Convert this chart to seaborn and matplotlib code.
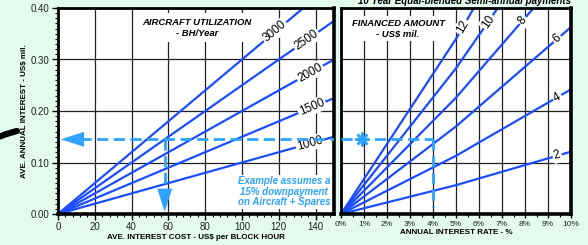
import numpy as np
import pandas as pd
import seaborn as sns
import matplotlib.pyplot as plt
from matplotlib.ticker import MultipleLocator, AutoMinorLocator, FuncFormatter
from matplotlib.lines import Line2D

# left panel - aircraft utilization lines (BH/Year)
utilization = ['1000', '1500', '2000', '2500', '3000']
cost_pts = [0, 150]
interest_at_150 = [0.150, 0.225, 0.300, 0.375, 0.450]
util_label_x = [137, 138, 137, 135, 118]

# right panel - financed amount lines (US$ mil.)
financed = ['2', '4', '6', '8', '10', '12']
rate_pts = [0, 5, 10]
interest_2 = [0, 0.056, 0.121]
interest_4 = [0, 0.113, 0.242]
interest_6 = [0, 0.170, 0.363]
interest_8 = [0, 0.226, 0.484]
interest_10 = [0, 0.283, 0.605]
interest_12 = [0, 0.340, 0.726]
fin_label_x = [9.4, 9.4, 9.4, 7.9, 6.4, 5.3]

# worked example
example_interest = 0.145
example_cost = 58
example_rate = 4

BLUE = '#1a4dff'
LIGHT = '#2ea3ff'
BG = '#e3fbee'

sns.set_theme(style='white')
plt.rcParams['font.family'] = ['Liberation Sans', 'DejaVu Sans']
plt.rcParams['text.color'] = 'black'

fig = plt.figure(figsize=(5.88, 2.45), dpi=100, facecolor=BG)
ax1 = fig.add_axes([58/588, 1-214/245, 276/588, 206/245])
ax2 = fig.add_axes([341/588, 1-214/245, 230/588, 206/245])

rows = []
for u, end in zip(utilization, interest_at_150):
    rows.append((u, cost_pts[0], 0.0))
    rows.append((u, cost_pts[1], end))
left_df = pd.DataFrame(rows, columns=['util', 'cost', 'interest'])

fin_values = [interest_2, interest_4, interest_6, interest_8, interest_10, interest_12]
rows = []
for f, vals in zip(financed, fin_values):
    for r, v in zip(rate_pts, vals):
        rows.append((f, r, v))
right_df = pd.DataFrame(rows, columns=['amount', 'rate', 'interest'])

sns.lineplot(data=left_df, x='cost', y='interest', hue='util', palette=[BLUE]*5,
             legend=False, ax=ax1, lw=1.6, estimator=None, zorder=2)
sns.lineplot(data=right_df, x='rate', y='interest', hue='amount', palette=[BLUE]*6,
             legend=False, ax=ax2, lw=1.6, estimator=None, zorder=2)

for ax in (ax1, ax2):
    ax.set_facecolor('white')
    ax.set_ylim(0, 0.40)
    ax.yaxis.set_major_locator(MultipleLocator(0.1))
    ax.grid(True, which='major', color='#222222', lw=0.9)
    ax.set_axisbelow(True)
    for s in ax.spines.values():
        s.set_visible(True)
        s.set_color('black')
        s.set_linewidth(2)
    ax.spines['right'].set_linewidth(2.6)
    ax.spines['bottom'].set_linewidth(2.6)

ax1.set_xlim(0, 150)
ax1.xaxis.set_major_locator(MultipleLocator(20))
ax1.xaxis.set_minor_locator(AutoMinorLocator(5))
ax1.yaxis.set_minor_locator(AutoMinorLocator(10))
ax1.yaxis.set_major_formatter(FuncFormatter(lambda v, p: f'{v:.2f}'))
ax1.tick_params(which='major', direction='out', length=4, width=1, color='black',
                labelsize=7, labelcolor='#222222', bottom=True, left=True, pad=2)
ax1.tick_params(which='minor', direction='out', length=2.5, width=0.8, color='black',
                bottom=True, left=True)
ax1.set_xlabel('AVE. INTEREST COST - US$ per BLOCK HOUR', fontsize=5.8,
               fontweight='bold', labelpad=1, color='black')
ax1.set_ylabel('AVE. ANNUAL INTEREST - US$ mil.', fontsize=5.8,
               fontweight='bold', labelpad=2, color='black')

ax2.set_xlim(0, 10)
ax2.xaxis.set_major_locator(MultipleLocator(1))
ax2.xaxis.set_minor_locator(AutoMinorLocator(2))
ax2.xaxis.set_major_formatter(FuncFormatter(lambda v, p: f'{int(v)}%'))
ax2.tick_params(which='major', axis='x', direction='out', length=3, width=1,
                color='black', labelsize=6, labelcolor='#222222', bottom=True, pad=2)
ax2.tick_params(which='minor', axis='x', direction='out', length=2, width=0.8,
                color='black', bottom=True)
ax2.tick_params(axis='y', left=False, labelleft=False)
ax2.set_xlabel('ANNUAL INTEREST RATE - %', fontsize=5.8, fontweight='bold',
               labelpad=1, color='black')
ax2.set_ylabel('')

# line labels along the lines
for u, end, lx in zip(utilization, interest_at_150, util_label_x):
    ly = np.interp(lx, cost_pts, [0, end])
    ang = np.degrees(np.arctan2(end, cost_pts[1]))
    ax1.text(lx, ly, u, ha='center', va='center', fontsize=8.5, rotation=ang,
             color='black', rotation_mode='anchor', transform_rotates_text=True,
             zorder=4, bbox=dict(facecolor='white', edgecolor='none', pad=1))

for f, vals, lx in zip(financed, fin_values, fin_label_x):
    ly = np.interp(lx, rate_pts, vals)
    ang = np.degrees(np.arctan2(vals[2] - vals[1], rate_pts[2] - rate_pts[1]))
    ax2.text(lx, ly, f, ha='center', va='center', fontsize=8.5, rotation=ang,
             color='black', rotation_mode='anchor', transform_rotates_text=True,
             zorder=4, bbox=dict(facecolor='white', edgecolor='none', pad=1))

# panel titles
ax1.text(75.5, 0.362, 'AIRCRAFT UTILIZATION\n- BH/Year', ha='center', va='center',
         fontsize=6.8, fontweight='bold', fontstyle='italic', linespacing=1.3, zorder=5,
         color='black', bbox=dict(facecolor='white', edgecolor='none', pad=3))
ax2.text(2.48, 0.360, 'FINANCED AMOUNT\n- US$ mil.', ha='center', va='center',
         fontsize=6.8, fontweight='bold', fontstyle='italic', linespacing=1.3, zorder=5,
         color='black', bbox=dict(facecolor='white', edgecolor='none', pad=2))
ax1.text(123, 0.043, 'Example assumes a\n15% downpayment\non Aircraft + Spares',
         ha='center', va='center', fontsize=7, fontweight='bold', fontstyle='italic',
         color=LIGHT, linespacing=1.05, zorder=5,
         bbox=dict(facecolor='white', edgecolor='none', pad=1))

# worked example dashed guides
dash = dict(color=LIGHT, lw=2, dashes=(4, 2), zorder=6)
ax1.plot([12, 150], [example_interest, example_interest], **dash)
ax1.plot([example_cost, example_cost], [example_interest, 0.045], **dash)
ax1.annotate('', xy=(1.5, example_interest), xytext=(12, example_interest), zorder=6,
             arrowprops=dict(arrowstyle='-|>,head_length=1.4,head_width=0.45',
                             color=LIGHT, lw=0, shrinkA=0, shrinkB=0))
ax1.annotate('', xy=(example_cost, 0.004), xytext=(example_cost, 0.045), zorder=6,
             arrowprops=dict(arrowstyle='-|>,head_length=1.4,head_width=0.45',
                             color=LIGHT, lw=0, shrinkA=0, shrinkB=0))
ax2.plot([0, example_rate], [example_interest, example_interest], **dash)
ax2.plot([example_rate, example_rate], [example_interest, 0.013], **dash)
ax2.plot([0.9], [example_interest], marker=(8, 2, 0), ms=10, mew=1.8,
         color=LIGHT, zorder=7)

fig.text(464/588, 1 - 1/245, '10 Year Equal-blended Semi-annual payments',
         ha='center', va='center', fontsize=7, fontweight='bold', fontstyle='italic',
         color='black')

# bit of a neighbouring graphic at the left edge
px = np.array([0, 5, 10, 15, 17])
py = np.array([136.5, 134.5, 133, 131.5, 131])
fig.add_artist(Line2D(px/588, 1 - py/245, transform=fig.transFigure,
                      color='black', lw=4.5, solid_capstyle='round'))

fig.savefig('out.png', dpi=100, facecolor=BG)
